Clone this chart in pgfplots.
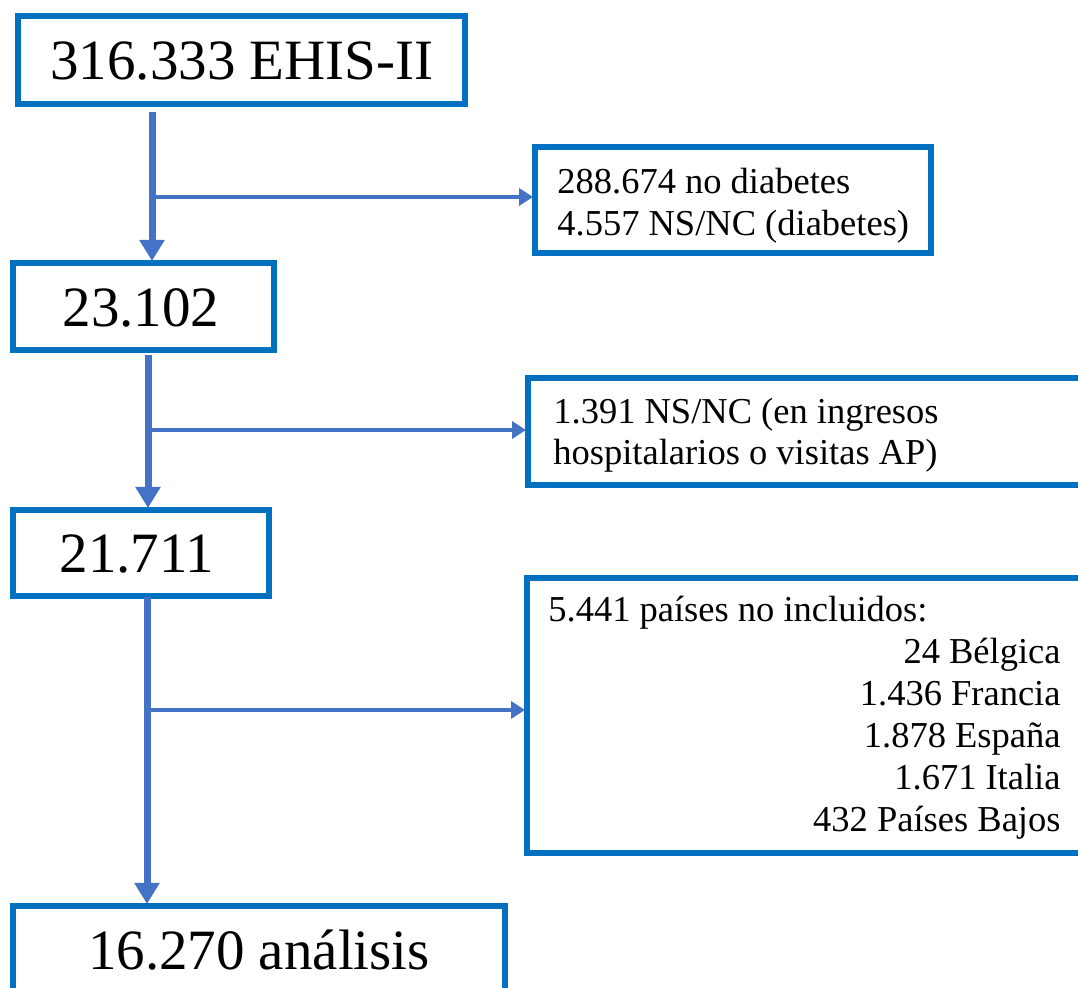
\documentclass[border=0pt]{standalone}
\usepackage{pgfplots}
\pgfplotsset{compat=1.18}
\usepackage{fontspec}
\setmainfont{Liberation Serif}
\usetikzlibrary{arrows.meta}
\definecolor{boxblue}{RGB}{0,112,192}
\definecolor{arrowblue}{RGB}{68,114,196}
\newcommand\bigf{\fontsize{28.5pt}{34pt}\selectfont}
\newcommand\smallf{\fontsize{18.25pt}{21pt}\selectfont}
\begin{document}
\begin{tikzpicture}
\begin{axis}[
  width=539pt, height=494pt, scale only axis,
  xmin=0, xmax=1078, ymin=0, ymax=988,
  axis lines=none, xtick=\empty, ytick=\empty,
  clip=true,
  boxstyle/.style={boxblue, line width=3pt, line cap=rect, line join=miter, no marks},
  vstyle/.style={arrowblue, line width=3.5pt, no marks, -{Triangle[length=10.5pt,width=12pt]}},
  hstyle/.style={arrowblue, line width=2.4pt, no marks, -{Triangle[length=7pt,width=8.5pt]}},
]
% boxes on the left
\addplot[boxstyle] coordinates {(18,972) (465,972) (465,884) (18,884) (18,972)};
\addplot[boxstyle] coordinates {(13,725) (274,725) (274,638) (13,638) (13,725)};
\addplot[boxstyle] coordinates {(13,478) (269,478) (269,392) (13,392) (13,478)};
\addplot[boxstyle] coordinates {(13,-20) (13,82) (505,82) (505,-20)};
% boxes on the right
\addplot[boxstyle] coordinates {(535,841) (931,841) (931,735) (535,735) (535,841)};
\addplot[boxstyle] coordinates {(1100,610) (528,610) (528,503) (1100,503)};
\addplot[boxstyle] coordinates {(1100,410) (527,410) (527,135) (1100,135)};
% vertical arrows
\addplot[vstyle] coordinates {(152,876) (152,727)};
\addplot[vstyle] coordinates {(148,633) (148,480)};
\addplot[vstyle] coordinates {(147,391) (147,84)};
% branch arrows
\addplot[hstyle] coordinates {(152,791) (533,791)};
\addplot[hstyle] coordinates {(148,558) (526,558)};
\addplot[hstyle] coordinates {(147,278) (525,278)};
% texts
\node[anchor=base, inner sep=0, font=\bigf] at (axis cs:242,908) {316.333 EHIS-II};
\node[anchor=base, inner sep=0, font=\bigf] at (axis cs:141,661) {23.102};
\node[anchor=base, inner sep=0, font=\bigf] at (axis cs:137,415) {21.711};
\node[anchor=base, inner sep=0, font=\bigf] at (axis cs:259,18) {16.270 análisis};
\node[anchor=base west, inner sep=0, font=\smallf] at (axis cs:557,794) {288.674 no diabetes};
\node[anchor=base west, inner sep=0, font=\smallf] at (axis cs:557,752) {4.557 NS/NC (diabetes)};
\node[anchor=base west, inner sep=0, font=\smallf] at (axis cs:553,564) {1.391 NS/NC (en ingresos};
\node[anchor=base west, inner sep=0, font=\smallf] at (axis cs:553,523) {hospitalarios o visitas AP)};
\node[anchor=base west, inner sep=0, font=\smallf] at (axis cs:548,366) {5.441 países no incluidos:};
\node[anchor=base east, inner sep=0, font=\smallf] at (axis cs:1061,324) {24 Bélgica};
\node[anchor=base east, inner sep=0, font=\smallf] at (axis cs:1061,282) {1.436 Francia};
\node[anchor=base east, inner sep=0, font=\smallf] at (axis cs:1061,240) {1.878 España};
\node[anchor=base east, inner sep=0, font=\smallf] at (axis cs:1061,198) {1.671 Italia};
\node[anchor=base east, inner sep=0, font=\smallf] at (axis cs:1061,156) {432 Países Bajos};
\end{axis}
\pgfresetboundingbox
\path[use as bounding box] (current axis.south west) rectangle (current axis.north east);
\end{tikzpicture}
\end{document}
